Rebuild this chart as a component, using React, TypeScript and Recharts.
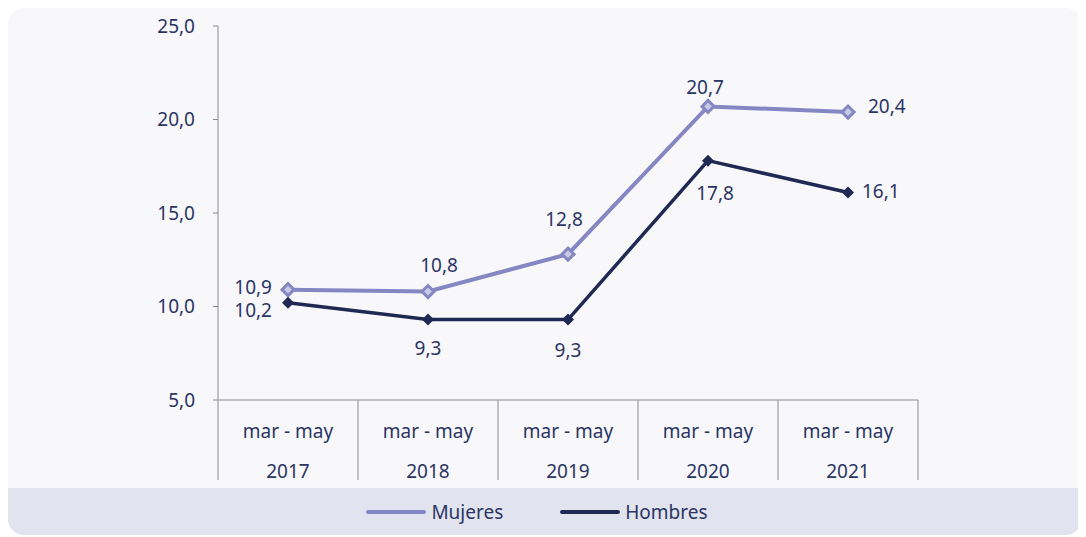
import React from 'react';
import { LineChart, Line, XAxis, YAxis } from 'recharts';

const periods = ['mar - may', 'mar - may', 'mar - may', 'mar - may', 'mar - may'];
const years = ['2017', '2018', '2019', '2020', '2021'];
const mujeres = [10.9, 10.8, 12.8, 20.7, 20.4];
const hombres = [10.2, 9.3, 9.3, 17.8, 16.1];
const yTicks = [5, 10, 15, 20, 25];

// label placement per point: [anchor, dx, dy]
const mujeresLabelPos: [string, number, number][] = [
  ['end', -16, -3],
  ['middle', 11, -27],
  ['middle', -4, -35],
  ['middle', -3, -19],
  ['start', 20, -6],
];
const hombresLabelPos: [string, number, number][] = [
  ['end', -16, 7],
  ['middle', 0, 28],
  ['middle', 0, 30],
  ['middle', 7, 32],
  ['start', 14, -1],
];

const data = years.map((y, i) => ({
  key: `${y}-${i}`,
  period: periods[i],
  year: y,
  mujeres: mujeres[i],
  hombres: hombres[i],
}));

const CARD_W = 1074;
const CARD_H = 527;
const PLOT_LEFT = 210;
const PLOT_RIGHT = 910;
const BAND = (PLOT_RIGHT - PLOT_LEFT) / years.length;
const FONT = '"Noto Sans", sans-serif';
const FS = 19;
const TEXT = '#2b3563';
const AXIS = '#8c8c8c';
const C_MUJ = '#8587c2';
const C_HOM = '#1f2953';

const fmt = (v: number) => v.toFixed(1).replace('.', ',');

const CategoryTick = (props: any) => {
  const { x, y, payload, index } = props;
  const half = BAND / 2;
  const d = data[index] || { period: '', year: payload.value };
  return (
    <g>
      <line x1={x - half} y1={y} x2={x - half} y2={y + 80} stroke={AXIS} strokeWidth={1} />
      {index === data.length - 1 && (
        <line x1={x + half} y1={y} x2={x + half} y2={y + 80} stroke={AXIS} strokeWidth={1} />
      )}
      <text x={x} y={y + 31} textAnchor="middle" dominantBaseline="central" fill={TEXT} fontSize={FS} fontFamily={FONT}>
        {d.period}
      </text>
      <text x={x} y={y + 71} textAnchor="middle" dominantBaseline="central" fill={TEXT} fontSize={FS} fontFamily={FONT}>
        {d.year}
      </text>
    </g>
  );
};

const makeLabel = (positions: [string, number, number][]) => (props: any) => {
  const { x, y, value, index } = props;
  const [anchor, dx, dy] = positions[index];
  return (
    <text
      x={x + dx}
      y={y + dy}
      textAnchor={anchor as any}
      dominantBaseline="central"
      fill={TEXT}
      fontSize={FS}
      fontFamily={FONT}
    >
      {fmt(value)}
    </text>
  );
};

const MujDot = (props: any) => {
  const { cx, cy } = props;
  const r = 6;
  return (
    <polygon points={`${cx},${cy - r} ${cx + r},${cy} ${cx},${cy + r} ${cx - r},${cy}`} fill="#c9cae6" stroke={C_MUJ} strokeWidth={3} />
  );
};

const HomDot = (props: any) => {
  const { cx, cy } = props;
  const r = 6;
  return <polygon points={`${cx},${cy - r} ${cx + r},${cy} ${cx},${cy + r} ${cx - r},${cy}`} fill={C_HOM} />;
};

const legendItems = [
  { name: 'Mujeres', color: C_MUJ },
  { name: 'Hombres', color: C_HOM },
];

export default function App() {
  return (
    <div
      style={{
        position: 'relative',
        width: CARD_W,
        height: CARD_H,
        background: '#f8f8fb',
        borderRadius: 16,
        overflow: 'hidden',
      }}
    >
      <div style={{ position: 'absolute', left: 0, top: 480, width: CARD_W, height: CARD_H - 480, background: '#e1e3ef' }} />
      <div style={{ position: 'absolute', left: 0, top: 0 }}>
        <LineChart
          width={CARD_W}
          height={480}
          data={data}
          margin={{ top: 18, right: CARD_W - PLOT_RIGHT, left: PLOT_LEFT - 60, bottom: 8 }}
        >
          <XAxis
            dataKey="key"
            height={80}
            tickSize={0}
            tickMargin={0}
            padding={{ left: BAND / 2, right: BAND / 2 }}
            axisLine={{ stroke: AXIS, strokeWidth: 1 }}
            tickLine={false}
            tick={<CategoryTick />}
            interval={0}
          />
          <YAxis
            width={60}
            domain={[5, 25]}
            ticks={yTicks}
            tickFormatter={fmt}
            axisLine={{ stroke: AXIS, strokeWidth: 1 }}
            tickLine={{ stroke: AXIS, strokeWidth: 1 }}
            tickSize={5}
            tickMargin={18}
            tick={{ fill: TEXT, fontSize: FS, fontFamily: FONT }}
          />
          <Line
            type="linear"
            dataKey="mujeres"
            name="Mujeres"
            stroke={C_MUJ}
            strokeWidth={4}
            dot={<MujDot />}
            activeDot={false}
            label={makeLabel(mujeresLabelPos)}
            isAnimationActive={false}
          />
          <Line
            type="linear"
            dataKey="hombres"
            name="Hombres"
            stroke={C_HOM}
            strokeWidth={3.5}
            dot={<HomDot />}
            activeDot={false}
            label={makeLabel(hombresLabelPos)}
            isAnimationActive={false}
          />
        </LineChart>
      </div>
      <div
        style={{
          position: 'absolute',
          left: 0,
          top: 480,
          width: CARD_W - 16,
          height: CARD_H - 480,
          display: 'flex',
          justifyContent: 'center',
          alignItems: 'center',
          gap: 57,
          fontFamily: FONT,
          fontSize: FS,
          color: TEXT,
        }}
      >
        {legendItems.map((it) => (
          <div key={it.name} style={{ display: 'flex', alignItems: 'center', gap: 5 }}>
            <div style={{ width: 60, height: 4, borderRadius: 2, background: it.color }} />
            <span>{it.name}</span>
          </div>
        ))}
      </div>
    </div>
  );
}
